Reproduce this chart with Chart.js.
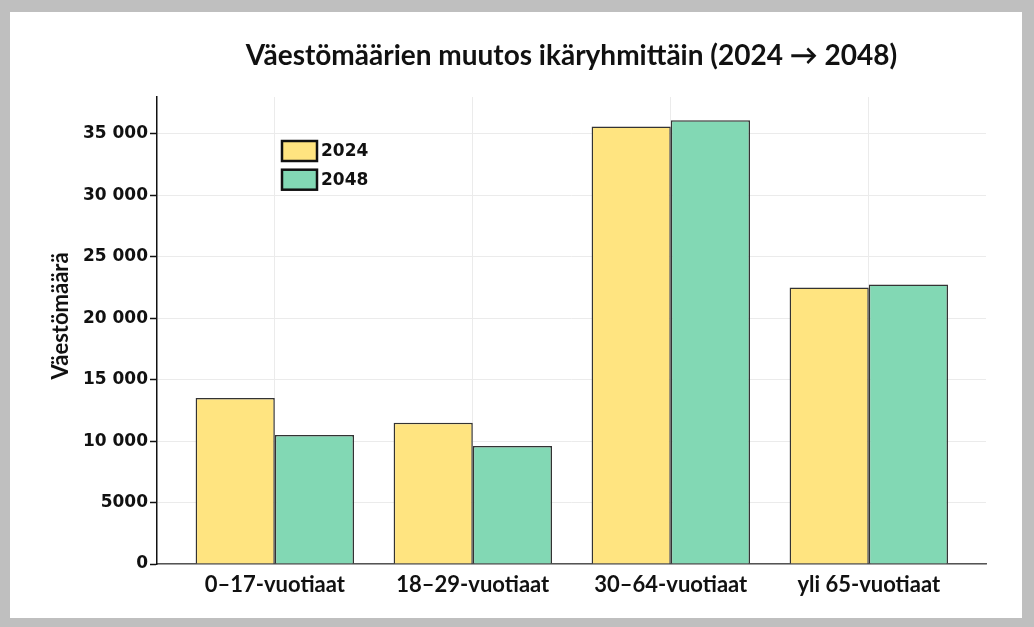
<!DOCTYPE html>
<html>
<head>
<meta charset="utf-8">
<script src="https://cdn.jsdelivr.net/npm/chart.js@4"></script>
<style>
  body { margin: 0; background: #bfbfbf; width: 1034px; height: 627px; overflow: hidden; }
  #box { position: absolute; left: 10px; top: 12px; width: 1012px; height: 606px; background: #fff; }
</style>
</head>
<body>
<div id="box"><canvas id="popChart"></canvas></div>
<script>
const categories = ['0–17-vuotiaat', '18–29-vuotiaat', '30–64-vuotiaat', 'yli 65-vuotiaat'];
const values2024 = [13500, 11500, 35600, 22500];
const values2048 = [10500, 9600, 36100, 22750];
const yTicks = [0, 5000, 10000, 15000, 20000, 25000, 30000, 35000];

function fmt(v) {
    if (v < 10000) return String(v);
    return String(v).replace(/\B(?=(\d{3})+(?!\d))/g, ' ');
}

// legend inside the plot (top-left) + rotated y title
const extras = {
    id: 'extras',
    afterDraw(chart) {
        const ctx = chart.ctx;
        const a = chart.chartArea;
        ctx.save();
        chart.data.datasets.forEach((ds, i) => {
            const x = a.left + 125;
            const y = a.top + 44 + i * 28.7;
            ctx.fillStyle = ds.backgroundColor;
            ctx.fillRect(x, y, 35, 20);
            ctx.lineWidth = 2.5;
            ctx.strokeStyle = '#111';
            ctx.strokeRect(x, y, 35, 20);
            ctx.fillStyle = '#111';
            ctx.font = 'bold 17px "DejaVu Sans"';
            ctx.textBaseline = 'middle';
            ctx.fillText(ds.label, x + 39, y + 11);
        });

        ctx.translate(51, 304);
        ctx.rotate(-Math.PI / 2);
        ctx.font = 'bold 22px Lato';
        ctx.textAlign = 'center';
        ctx.textBaseline = 'middle';
        ctx.fillStyle = '#111';
        ctx.fillText('Väestömäärä', 0, 0);
        ctx.restore();
    }
};

const ctx = document.getElementById('popChart').getContext('2d');
const popChart = new Chart(ctx, {
    type: 'bar',
    data: {
        datasets: [{
            label: '2024',
            data: categories.map((c, i) => ({ x: i, y: values2024[i] })),
            backgroundColor: '#ffe480',
            borderColor: '#333',
            borderWidth: 1.5,
            categoryPercentage: 0.8,
            barPercentage: 1.0
        }, {
            label: '2048',
            data: categories.map((c, i) => ({ x: i, y: values2048[i] })),
            backgroundColor: '#82d8b4',
            borderColor: '#333',
            borderWidth: 1.5,
            categoryPercentage: 0.8,
            barPercentage: 1.0
        }]
    },
    options: {
        responsive: true,
        maintainAspectRatio: false,
        animation: false,
        layout: { padding: { left: 0, right: 36, top: 0, bottom: 0 } },
        plugins: {
            legend: { display: false },
            tooltip: { enabled: false },
            title: {
                display: true,
                fullSize: false,
                text: 'Väestömäärien muutos ikäryhmittäin (2024 → 2048)',
                color: '#111',
                font: { family: 'Lato', size: 28, weight: 'bold', lineHeight: 1.2 },
                padding: { top: 27, bottom: 24.4 }
            }
        },
        scales: {
            x: {
                type: 'linear',
                offset: false,
                min: -0.595,
                max: 3.592,
                afterBuildTicks: s => { s.ticks = categories.map((c, i) => ({ value: i })); },
                afterFit: s => { s.height = 54; },
                grid: { color: '#ebebeb', lineWidth: 1, drawTicks: false, offset: false },
                border: { color: '#555', width: 1.5 },
                ticks: {
                    padding: 8,
                    color: '#111',
                    font: { family: 'Lato', size: 22, weight: 'bold' },
                    callback: v => categories[v]
                }
            },
            y: {
                min: 0,
                max: 38000,
                afterBuildTicks: s => { s.ticks = yTicks.map(v => ({ value: v })); },
                afterFit: s => { s.width = 147; },
                grid: { color: '#ebebeb', lineWidth: 1, tickLength: 7, tickColor: '#111', tickWidth: 1.5 },
                border: { color: '#111', width: 1.5 },
                ticks: {
                    padding: 2,
                    color: '#111',
                    font: { family: 'DejaVu Sans', size: 17, weight: 'bold' },
                    callback: v => fmt(v)
                }
            }
        }
    },
    plugins: [extras]
});
</script>
</body>
</html>
